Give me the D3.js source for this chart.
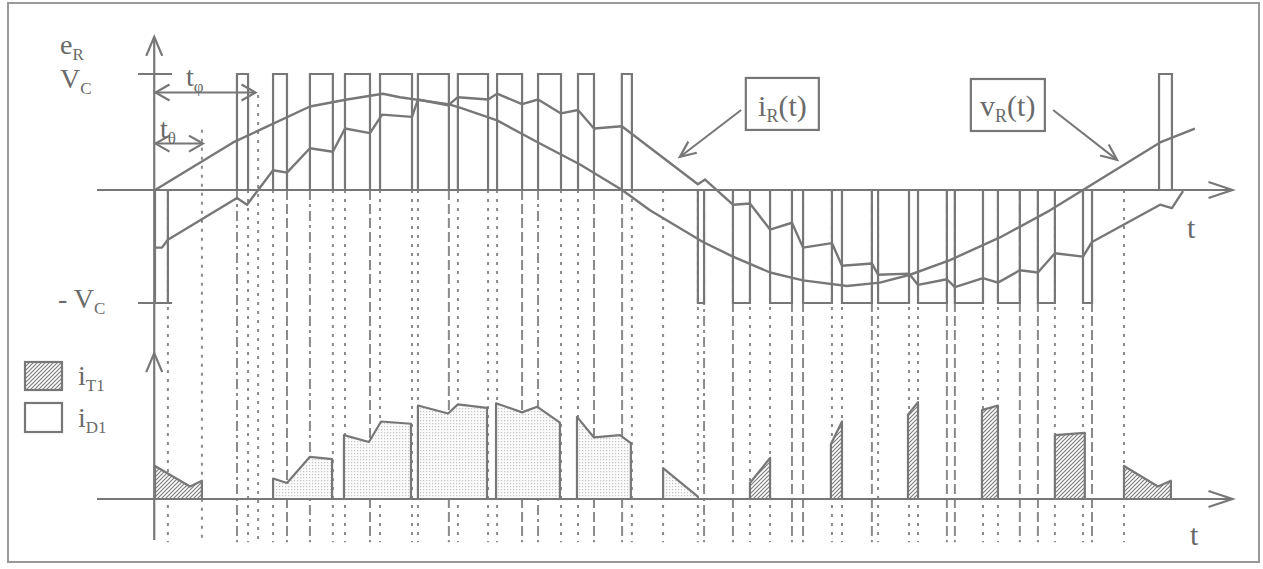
<!DOCTYPE html>
<html><head><meta charset="utf-8">
<script src="https://cdn.jsdelivr.net/npm/d3@7"></script>
<style>body{margin:0;background:#fff}</style>
</head><body>
<svg id="c" width="1263" height="569"></svg>
<script>
// ---- data (time in electrical degrees, amplitudes in units of Vc / peak current) ----
const pulsesPositive = [[31.8,36.1],[45.8,51.2],[60.1,69.0],[73.7,83.4],[87.3,99.7],[102.0,114.0],[117.5,129.2],[132.7,142.4],[148.6,157.5],[164.1,170.3],[181.1,185.0],[389.5,394.5]];
const pulsesNegative = [[0,5.0],[210.6,213.0],[224.2,230.8],[238.6,247.1],[251.4,262.6],[266.5,278.1],[280.5,292.5],[296.0,307.2],[310.3,321.2],[327.0,335.5],[342.5,349.1],[360.0,363.5]];
const vR = [[0,0],[30.3,0.41],[60.1,0.72],[74.5,0.78],[88.4,0.83],[95.0,0.80],[113.7,0.74],[118.3,0.71],[132.7,0.60],[148.6,0.41],[164.9,0.22],[181.2,0],[192,-0.18],[212.6,-0.46],[224.2,-0.59],[238.6,-0.73],[251.4,-0.80],[268.4,-0.85],[281.2,-0.82],[292.9,-0.75],[308.4,-0.62],[327.8,-0.42],[347.2,-0.18],[360,0],[389.9,0.41],[403.4,0.53]];
const iR = [[0,-0.51],[2.7,-0.51],[5.0,-0.44],[31.8,-0.07],[35.7,-0.13],[45.8,0.17],[51.2,0.15],[60.1,0.36],[69.0,0.33],[73.7,0.53],[83.4,0.49],[88.1,0.65],[99.7,0.63],[102.0,0.78],[113.7,0.73],[117.5,0.80],[129.2,0.78],[132.7,0.83],[142.4,0.74],[148.6,0.78],[157.5,0.66],[164.1,0.69],[170.3,0.53],[181.1,0.55],[210.6,0.05],[213.4,0.09],[224.2,-0.13],[230.8,-0.12],[238.6,-0.35],[247.1,-0.29],[251.4,-0.51],[262.6,-0.47],[266.5,-0.67],[278.1,-0.65],[280.5,-0.75],[292.5,-0.74],[296.0,-0.84],[307.2,-0.79],[310.3,-0.86],[321.2,-0.78],[327.0,-0.82],[335.5,-0.71],[342.5,-0.73],[349.1,-0.56],[360.0,-0.59],[363.5,-0.46],[389.9,-0.13],[394.5,-0.16],[398.8,-0.01]];
const iT1Shapes = [
  [[0,0.29],[13.6,0.11],[18.2,0.16]],
  [[230.8,0.14],[238.6,0.36]],
  [[262.2,0.48],[266.5,0.68]],
  [[292.1,0.74],[296.0,0.85]],
  [[320.8,0.78],[327.0,0.82]],
  [[349.1,0.56],[360.7,0.58]],
  [[375.9,0.29],[389.1,0.11],[394.1,0.16]]
];
const iD1Shapes = [
  [[45.8,0.18],[51.2,0.14],[60.1,0.37],[68.7,0.35]],
  [[73.3,0.56],[83.0,0.50],[87.7,0.68],[99.3,0.66]],
  [[102.0,0.82],[113.7,0.75],[117.5,0.83],[128.8,0.80]],
  [[132.3,0.84],[142.4,0.76],[148.2,0.81],[157.1,0.67]],
  [[163.7,0.72],[170.3,0.54],[180.4,0.56],[184.6,0.49]],
  [[197.1,0.27],[210.6,0.02]]
];
const verticalLines = [[5.0,'dot'],[18.2,'dot'],[31.8,'dashdot'],[36.1,'dot'],[40.0,'dot'],[45.8,'dot'],[51.2,'dash'],[60.1,'dashdot'],[69.0,'dot'],[73.7,'dot'],[83.4,'dash'],[87.3,'dot'],[99.7,'dot'],[102.0,'dot'],[114.0,'dash'],[117.5,'dot'],[129.2,'dot'],[132.7,'dot'],[142.4,'dash'],[148.6,'dashdot'],[157.5,'dot'],[164.1,'dot'],[170.3,'dash'],[181.2,'dash'],[185.0,'dot'],[197.1,'dot'],[210.6,'dot'],[213.0,'dashdot'],[224.2,'dash'],[230.8,'dot'],[238.6,'dot'],[247.1,'dash'],[251.4,'dash'],[262.6,'dot'],[266.5,'dot'],[278.1,'dash'],[280.5,'dot'],[292.5,'dot'],[296.0,'dot'],[307.2,'dash'],[310.3,'dash'],[321.2,'dot'],[327.0,'dot'],[335.5,'dash'],[342.5,'dash'],[349.1,'dot'],[360.0,'dot'],[363.5,'dash'],[375.9,'dot']];
const tTheta = 18.2, tPhi = 40.0;

// ---- drawing ----
const svg = d3.select('#c');
const col = '#777';
const txt = '#6a6a6a';
const font = '"Liberation Serif", "DejaVu Serif", serif';
const x = d3.scaleLinear().domain([0,360]).range([155,1083]);
const yT = d3.scaleLinear().domain([-1,0,1]).range([303,190,74]);
const yB = d3.scaleLinear().domain([0,1]).range([499,385]);

const defs = svg.append('defs');
const hp = defs.append('pattern').attr('id','hatch').attr('patternUnits','userSpaceOnUse').attr('width',4).attr('height',4);
hp.append('rect').attr('width',4).attr('height',4).attr('fill','#fff');
hp.append('path').attr('d','M-1,1 l2,-2 M0,4 l4,-4 M3,5 l2,-2').attr('stroke','#7d7d7d').attr('stroke-width',1.2);
const sp = defs.append('pattern').attr('id','stip').attr('patternUnits','userSpaceOnUse').attr('width',3).attr('height',3);
sp.append('rect').attr('width',3).attr('height',3).attr('fill','#fbfbfb');
sp.append('rect').attr('width',1.2).attr('height',1.2).attr('fill','#c4c4c4');

// frame
svg.append('rect').attr('x',8).attr('y',3).attr('width',1251).attr('height',559)
  .attr('fill','none').attr('stroke','#999').attr('stroke-width',2);

// vertical guide lines
const dashes = {dot:'3,6', dash:'10,4', dashdot:'10,4,3,4'};
svg.append('g').selectAll('line').data(verticalLines).join('line')
  .attr('x1',d=>x(d[0])).attr('x2',d=>x(d[0]))
  .attr('y1',d=> d[0]===tTheta ? yT(0.52) : d[0]===tPhi ? yT(0.82) : yT(0))
  .attr('y2',yB(-0.38))
  .attr('stroke','#8a8a8a').attr('stroke-width',2).attr('stroke-dasharray',d=>dashes[d[1]]);

// bottom shapes
const shapePath = pts => {
  const p = d3.path();
  p.moveTo(x(pts[0][0]), yB(0));
  pts.forEach(q=>p.lineTo(x(q[0]), yB(q[1])));
  p.lineTo(x(pts[pts.length-1][0]), yB(0));
  p.closePath();
  return p.toString();
};
svg.append('g').selectAll('path').data(iD1Shapes).join('path')
  .attr('d',shapePath).attr('fill','url(#stip)').attr('stroke',col).attr('stroke-width',2.2).attr('stroke-linejoin','round');
svg.append('g').selectAll('path').data(iT1Shapes).join('path')
  .attr('d',shapePath).attr('fill','url(#hatch)').attr('stroke',col).attr('stroke-width',2.2).attr('stroke-linejoin','round');

// e_R pulses
const pulsePath = (d, level) => `M${x(d[0])},${yT(0)}V${yT(level)}H${x(d[1])}V${yT(0)}`;
svg.append('g').selectAll('path').data(pulsesPositive).join('path')
  .attr('d',d=>pulsePath(d,1)).attr('fill','none').attr('stroke',col).attr('stroke-width',2.2);
svg.append('g').selectAll('path').data(pulsesNegative).join('path')
  .attr('d',d=>pulsePath(d,-1)).attr('fill','none').attr('stroke',col).attr('stroke-width',2.2);

// curves
const line = d3.line().x(d=>x(d[0])).y(d=>yT(d[1]));
svg.append('path').attr('d',line(vR)).attr('fill','none').attr('stroke',col).attr('stroke-width',2.4).attr('stroke-linejoin','round');
svg.append('path').attr('d',line(iR)).attr('fill','none').attr('stroke',col).attr('stroke-width',2.4).attr('stroke-linejoin','round');

// axes
const ax = svg.append('g').attr('stroke',col).attr('stroke-width',2.2).attr('fill','none');
ax.append('line').attr('x1',x(-22.5)).attr('x2',x(418)).attr('y1',yT(0)).attr('y2',yT(0));
ax.append('line').attr('x1',x(-22.5)).attr('x2',x(418)).attr('y1',yB(0)).attr('y2',yB(0));
ax.append('line').attr('x1',x(-0.3)).attr('x2',x(-0.3)).attr('y1',yT(1.32)).attr('y2',yB(-0.36));
ax.append('line').attr('x1',x(-6.6)).attr('x2',x(6.6)).attr('y1',yT(1)).attr('y2',yT(1));
ax.append('line').attr('x1',x(-6.6)).attr('x2',x(6.6)).attr('y1',yT(-1)).attr('y2',yT(-1));

function arrowHead(g, tx, ty, dx, dy, len, half){
  const bx = tx-dx*len, by = ty-dy*len, px = -dy, py = dx;
  g.append('path').attr('d',`M${bx+px*half},${by+py*half}L${tx},${ty}L${bx-px*half},${by-py*half}`)
   .attr('fill','none').attr('stroke',col).attr('stroke-width',2.2);
}
arrowHead(svg, x(-0.3), yT(1.32), 0, -1, 19, 8);
arrowHead(svg, x(-0.3), yB(1.28), 0, -1, 19, 8);
arrowHead(svg, x(418), yT(0), 1, 0, 24, 8);
arrowHead(svg, x(418), yB(0), 1, 0, 24, 8);

// t_phi and t_theta double arrows
function dbl(x1,x2,y){
  svg.append('line').attr('x1',x1).attr('x2',x2).attr('y1',y).attr('y2',y).attr('stroke',col).attr('stroke-width',2);
  arrowHead(svg,x1,y,-1,0,14,8);
  arrowHead(svg,x2,y,1,0,14,8);
}
dbl(x(0.2), x(39.0), yT(0.84));
dbl(x(0.2), x(18.6), yT(0.40));

// annotation arrows
function annotArrow(x1,y1,x2,y2){
  svg.append('line').attr('x1',x1).attr('y1',y1).attr('x2',x2).attr('y2',y2).attr('stroke',col).attr('stroke-width',2);
  const L = Math.hypot(x2-x1,y2-y1);
  arrowHead(svg,x2,y2,(x2-x1)/L,(y2-y1)/L,16,7);
}
annotArrow(x(227.4), yT(0.69), x(203.6), yT(0.285));
annotArrow(x(348.4), yT(0.69), x(373.2), yT(0.26));

// label boxes
svg.append('rect').attr('x',x(229.2)).attr('y',yT(0.966)).attr('width',73).attr('height',52)
  .attr('fill','none').attr('stroke',col).attr('stroke-width',2.2);
svg.append('rect').attr('x',x(316.5)).attr('y',yT(0.957)).attr('width',74).attr('height',52)
  .attr('fill','none').attr('stroke',col).attr('stroke-width',2.2);

// text helper
function label(px, py, main, sub, tail, size, subSize, anchor){
  const t = svg.append('text').attr('x',px).attr('y',py).attr('fill',txt)
    .attr('font-family',font).attr('font-size',size).attr('text-anchor',anchor||'start');
  t.append('tspan').text(main);
  if (sub) t.append('tspan').attr('font-size',subSize).attr('dy',size*0.22).text(sub);
  if (tail) t.append('tspan').attr('dy',-size*0.22).text(tail);
  return t;
}
label(60, 54, 'e', 'R', null, 28, 17);
label(60, 88, 'V', 'C', null, 28, 17);
label(58, 308, '- V', 'C', null, 28, 17);
label(186, 86, 't', 'φ', null, 28, 17);
label(160, 138, 't', 'θ', null, 28, 17);
label(x(243.4), yT(0.64), 'i', 'R', '(t)', 30, 18, 'middle');
label(x(330.8), yT(0.64), 'v', 'R', '(t)', 30, 18, 'middle');
label(1187, 238, 't', null, null, 30, 17);
label(1190, 545, 't', null, null, 30, 17);

// legend
svg.append('rect').attr('x',25).attr('y',362).attr('width',37).attr('height',28)
  .attr('fill','url(#hatch)').attr('stroke',col).attr('stroke-width',2.2);
svg.append('rect').attr('x',25).attr('y',403).attr('width',37).attr('height',29)
  .attr('fill','#fff').attr('stroke',col).attr('stroke-width',2.2);
label(78, 385, 'i', 'T1', null, 28, 17);
label(78, 427, 'i', 'D1', null, 28, 17);
</script>
</body></html>
